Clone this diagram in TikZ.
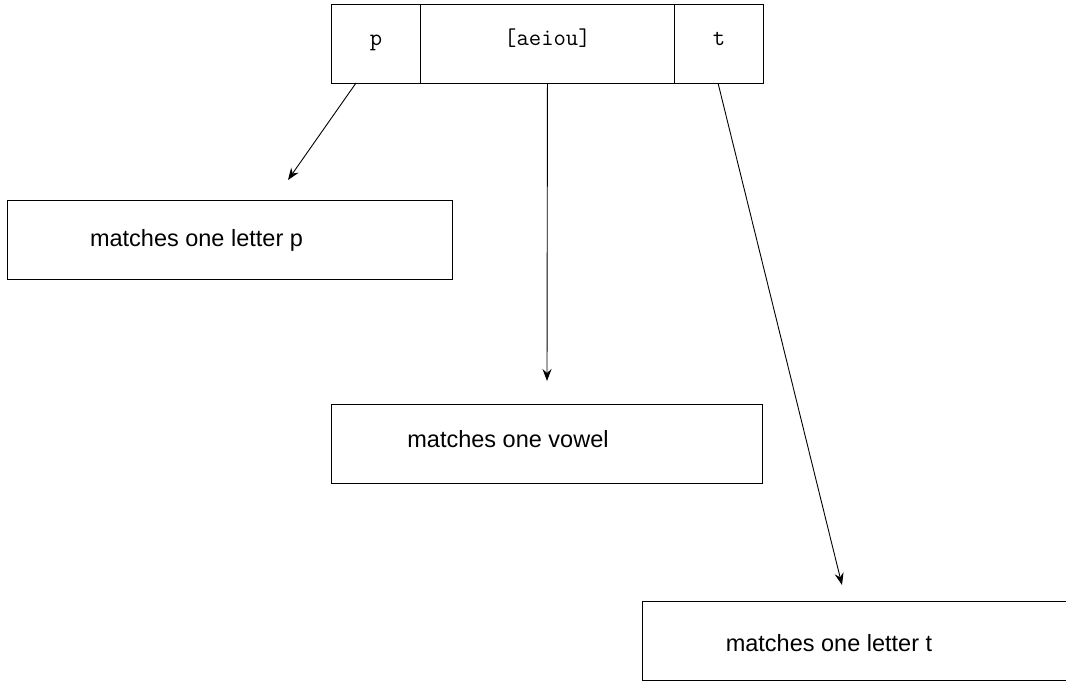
\documentclass[tikz,border=0pt]{standalone}
\usepackage{fontspec}
\setmainfont{Liberation Sans}
\usetikzlibrary{arrows.meta}
\begin{document}
\begin{tikzpicture}[x=1pt,y=-1pt,
  line width=0.9pt,
  cell/.style={draw, line width=0.9pt, minimum height=79pt, inner sep=0pt, anchor=north west,
    text height=3pt, text depth=0pt, font=\ttfamily\fontsize{24}{24}\selectfont},
  box/.style={draw, line width=0.9pt, minimum height=79pt, inner sep=0pt, anchor=north west},
  lbl/.style={inner sep=0pt, anchor=base, font=\fontsize{23.5}{24}\selectfont},
  arr/.style={-{Stealth[length=12pt, width=9pt, inset=4pt]}, line width=0.9pt}]
\useasboundingbox (0,0) rectangle (1066,681);
\clip (0,0) rectangle (1066,681);
% top cells
\node[cell, minimum width=89pt] (p) at (331,4) {p};
\node[cell, minimum width=254pt] (v) at (420,4) {[aeiou]};
\node[cell, minimum width=89pt] (t) at (674,4) {t};
% boxes
\node[box, minimum width=445pt] (A) at (7,200) {};
\node[box, minimum width=431pt] (B) at (331,404) {};
\node[box, minimum width=460pt] (C) at (642,601) {};
\node[lbl] (Atext) at (196.5,246) {matches one letter p};
\node[lbl] (Btext) at (508,447) {matches one vowel};
\node[lbl] (Ctext) at (829,651) {matches one letter t};
% arrow ends
\coordinate (pstart) at (356,83);
\coordinate (pend) at (288,180);
\coordinate (vend) at (547,381);
\coordinate (tstart) at (718,83);
\coordinate (tend) at (842,585);
\draw[arr] (pstart) -- (pend);
\draw[arr] (v.south) -- (vend);
\draw[arr] (tstart) -- (tend);
\end{tikzpicture}
\end{document}
